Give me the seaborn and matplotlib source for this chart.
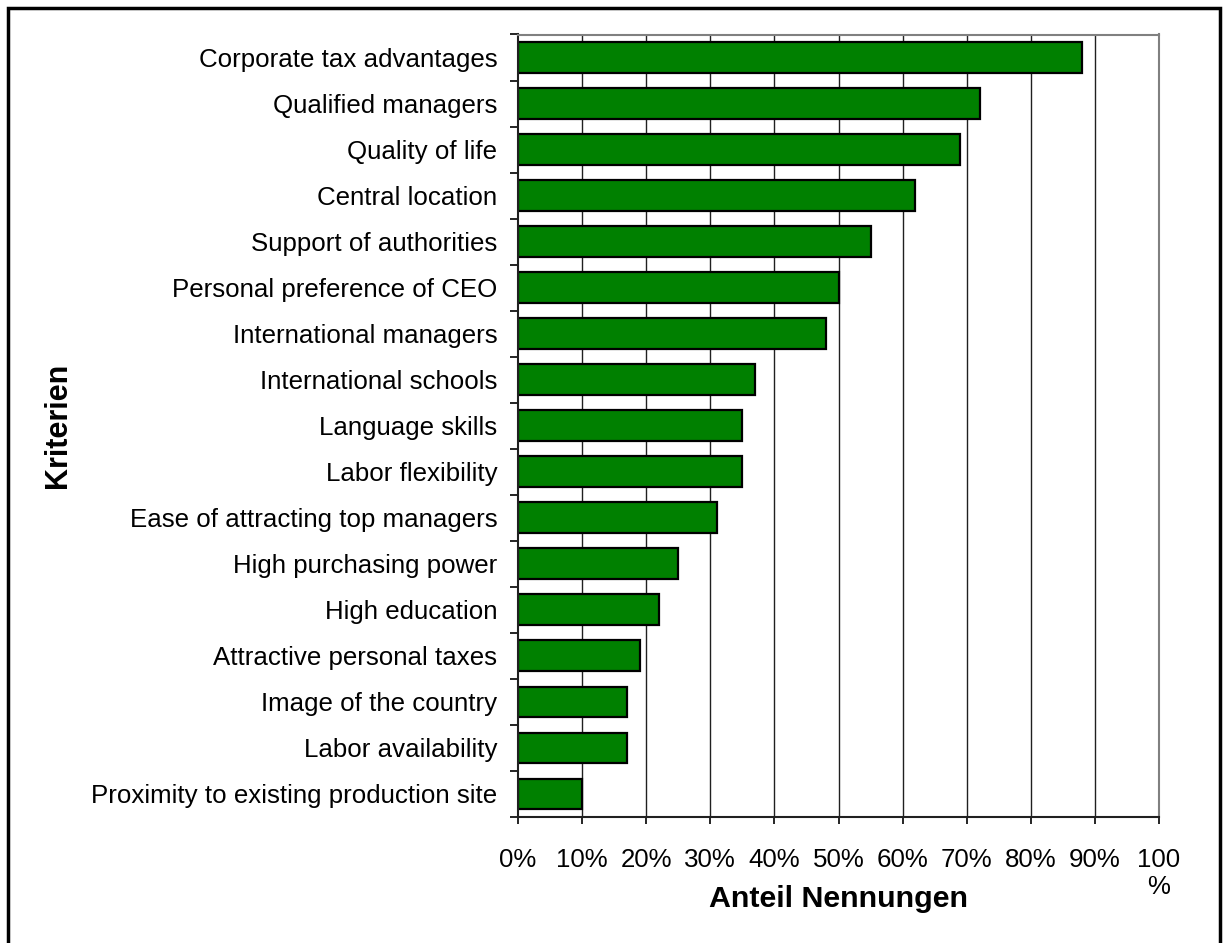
import matplotlib
matplotlib.use("Agg")
import matplotlib.pyplot as plt
from matplotlib.patches import Rectangle
from matplotlib.ticker import FixedLocator
import pandas as pd
import seaborn as sns

# Kriterien und Anteil Nennungen (in %)
kriterien = [
    'Corporate tax advantages', 'Qualified managers', 'Quality of life',
    'Central location', 'Support of authorities', 'Personal preference of CEO',
    'International managers', 'International schools', 'Language skills',
    'Labor flexibility', 'Ease of attracting top managers', 'High purchasing power',
    'High education', 'Attractive personal taxes', 'Image of the country',
    'Labor availability', 'Proximity to existing production site'
]
anteil = [88, 72, 69, 62, 55, 50, 48, 37, 35, 35, 31, 25, 22, 19, 17, 17, 10]
x_ticks = [0, 10, 20, 30, 40, 50, 60, 70, 80, 90, 100]
x_ticklabels = ['0%', '10%', '20%', '30%', '40%', '50%', '60%', '70%', '80%', '90%', '100\n%']

df = pd.DataFrame({'Kriterien': kriterien, 'Anteil': anteil})

sns.set_style('white')
plt.rcParams['font.family'] = ['Liberation Sans', 'DejaVu Sans']
plt.rcParams['text.color'] = 'black'
plt.rcParams['xtick.color'] = 'black'
plt.rcParams['ytick.color'] = 'black'
plt.rcParams['axes.labelcolor'] = 'black'

fig = plt.figure(figsize=(12.24, 9.43), dpi=100)
ax = fig.add_axes([518 / 1224, 1 - 817 / 943, (1159 - 518) / 1224, (817 - 34.5) / 943])

sns.barplot(data=df, x='Anteil', y='Kriterien', orient='h', color='#008000',
            saturation=1, edgecolor='black', linewidth=1.6, width=0.67, ax=ax)

ax.set_xlim(0, 100)
ax.set_ylim(len(kriterien) - 0.5, -0.5)

# vertical gridlines
for v in x_ticks[1:-1]:
    ax.axvline(v, color='#202020', linewidth=1.0, zorder=0)

ax.set_xticks(x_ticks)
ax.set_xticklabels(x_ticklabels, fontsize=18.6, linespacing=1.2)
ax.tick_params(axis='x', direction='out', length=5, width=1.2, pad=17, bottom=True)

# y ticks between categories
ax.tick_params(axis='y', which='major', length=0, pad=15, labelsize=18.6)
ax.yaxis.set_minor_locator(FixedLocator([i - 0.5 for i in range(len(kriterien) + 1)]))
ax.tick_params(axis='y', which='minor', direction='out', length=5.5, width=1.2, left=True)

for side in ['top', 'right']:
    ax.spines[side].set_color('#808080')
    ax.spines[side].set_linewidth(1.5)
for side in ['left', 'bottom']:
    ax.spines[side].set_color('#202020')
    ax.spines[side].set_linewidth(1.5)

ax.set_xlabel('Anteil Nennungen', fontsize=21.9, fontweight='bold')
ax.xaxis.set_label_coords(0.5, -0.105)
ax.xaxis.label.set_va('center')
ax.set_ylabel('Kriterien', fontsize=22, fontweight='bold')
ax.yaxis.set_label_coords((58.5 - 518) / 641, 0.5)
ax.yaxis.label.set_va('center')

# outer frame
fig.patches.append(Rectangle((8 / 1224, -0.05), (1220 - 8) / 1224, 1 - 8 / 943 + 0.05,
                             transform=fig.transFigure, fill=False,
                             edgecolor='black', linewidth=2.5))

fig.savefig('out.png', dpi=100)
